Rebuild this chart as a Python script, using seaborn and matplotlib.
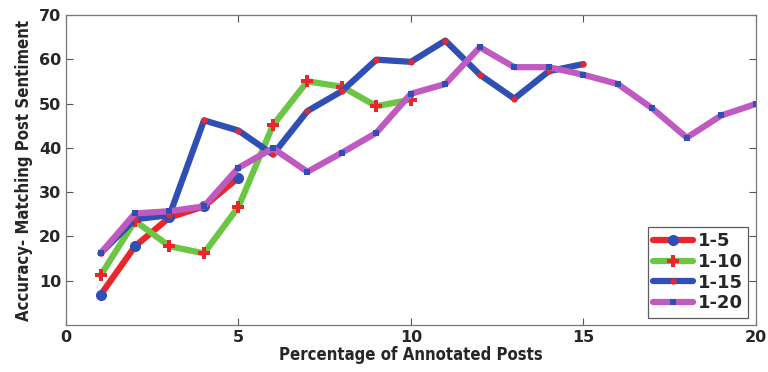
import matplotlib
matplotlib.use("Agg")
import matplotlib.pyplot as plt
import numpy as np
import pandas as pd
import seaborn as sns

sns.set_style("ticks")
plt.rcParams["font.family"] = ["DejaVu Sans"]

x_5 = [1, 2, 3, 4, 5]
acc_5 = [6.8, 17.8, 24.3, 26.8, 33.3]

x_10 = [1, 2, 3, 4, 5, 6, 7, 8, 9, 10]
acc_10 = [11.2, 23.5, 17.8, 16.2, 26.7, 45.1, 55.0, 53.8, 49.4, 50.9]

x_15 = [1, 2, 3, 4, 5, 6, 7, 8, 9, 10, 11, 12, 13, 14, 15]
acc_15 = [16.2, 23.9, 24.8, 46.2, 43.9, 38.5, 48.3, 52.8, 59.9, 59.4,
          64.2, 56.5, 51.1, 57.3, 58.9]

x_20 = list(range(1, 21))
acc_20 = [16.2, 25.2, 25.7, 26.8, 35.5, 39.9, 34.6, 38.9, 43.4, 52.2,
          54.4, 62.7, 58.2, 58.2, 56.5, 54.4, 48.9, 42.3, 47.3, 49.9]

labels = ["1-5", "1-10", "1-15", "1-20"]

RED = "#e8262b"
GREEN = "#6cc644"
BLUE = "#2f4fb4"
PURPLE = "#c05ac0"

fig = plt.figure(figsize=(7.68, 3.72), dpi=100)
ax = fig.add_axes([0.086, 0.126, 0.898, 0.834])

series = [
    (x_5, acc_5, labels[0], RED, "o", BLUE, 8),
    (x_10, acc_10, labels[1], GREEN, "P", RED, 9),
    (x_15, acc_15, labels[2], BLUE, "o", RED, 4.5),
    (x_20, acc_20, labels[3], PURPLE, "s", BLUE, 4.5),
]
for xs, ys, lab, lc, mk, mc, ms in series:
    sns.lineplot(x=xs, y=ys, ax=ax, color=lc, linewidth=4.5, label=lab,
                 marker=mk, markersize=ms, markerfacecolor=mc,
                 markeredgecolor=mc, markeredgewidth=0)

ax.set_xlim(0, 20)
ax.set_ylim(0, 70)
ax.set_xticks([0, 5, 10, 15, 20])
ax.set_yticks([10, 20, 30, 40, 50, 60, 70])
ax.tick_params(direction="in", top=True, right=True, length=5, width=0.8,
               color="#555555", labelsize=11.5)
for lbl in ax.get_xticklabels() + ax.get_yticklabels():
    lbl.set_fontweight("bold")
for s in ax.spines.values():
    s.set_color("#777777")
    s.set_linewidth(0.9)

ax.set_xlabel("Percentage of Annotated Posts", fontsize=12, fontweight="bold",
              fontstretch="condensed", labelpad=1)
ax.set_ylabel("Accuracy- Matching Post Sentiment", fontsize=12,
              fontweight="bold", fontstretch="condensed", labelpad=4)

leg = ax.legend(loc="lower right", frameon=True, fancybox=False,
                edgecolor="#333333", handlelength=2.2,
                borderpad=0.3, labelspacing=0.15, handletextpad=0.3,
                borderaxespad=0.4, prop={"weight": "bold", "size": 13})
leg.get_frame().set_linewidth(0.9)

fig.savefig("out.png", dpi=100)
